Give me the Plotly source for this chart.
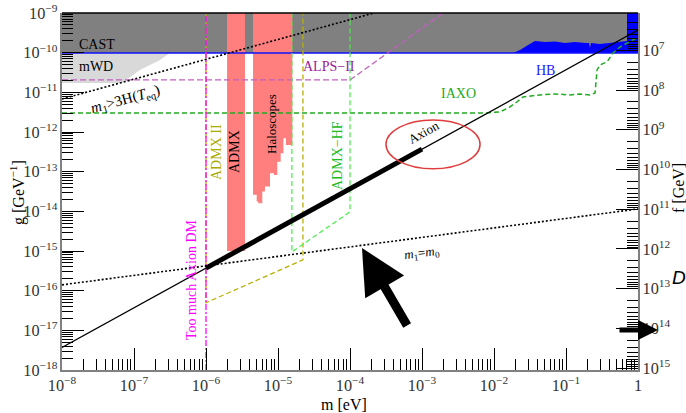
import plotly.graph_objects as go

# ---------------- data ----------------
m_range = [1e-8, 1.0]               # eV  (x axis)
g_range = [1e-18, 1e-9]             # GeV^-1 (left axis)
f_range = [10 ** 15.05, 10 ** 6.06]  # GeV (right axis, reversed: bottom, top)

g_cast = 0.98e-10
cast_m = [1e-8, 0.703, 0.703, 1e-8]
cast_g = [g_cast, g_cast, 1e-9, 1e-9]

mwd_m = [1e-8, 3.16e-7, 2.3e-7, 1.21e-7, 6.8e-8, 1e-8]
mwd_g = [0.98e-10, 0.98e-10, 6.5e-11, 3.66e-11, 1.72e-11, 1.72e-11]

hb_m = [0.0184, 0.0230, 0.0297, 0.0371, 0.0511, 0.0703, 0.0968, 0.133, 0.184,
        0.209, 0.215, 0.222, 0.296, 0.408, 0.562, 0.703, 0.703, 1.0, 1.0]
hb_g = [0.98e-10, 1.17e-10, 1.56e-10, 1.97e-10, 1.86e-10, 1.91e-10, 1.76e-10,
        1.86e-10, 1.76e-10, 1.76e-10, 1.31e-10, 1.76e-10, 1.66e-10, 1.76e-10,
        1.86e-10, 1.97e-10, 1e-9, 1e-9, 0.98e-10]
hb_line_m = [1e-8, 1.0]
hb_line_g = [g_cast, g_cast]

admx_m = [1.96e-6, 3.48e-6]
admx_g = [1.0e-15, 1e-9]

halo_edges_m = [4.50e-6, 5.06e-6, 5.32e-6, 6.05e-6, 6.59e-6, 7.74e-6, 8.80e-6,
                9.78e-6, 1.09e-5, 1.19e-5, 1.29e-5, 1.58e-5]
halo_floor_g = [2.61e-14, 1.77e-14, 1.61e-14, 3.16e-14, 4.22e-14, 9.17e-14,
                8.30e-14, 1.79e-13, 2.92e-13, 6.98e-13, 4.73e-13]
halo_top_g = 1e-9

admx2_m = [1e-6, 1e-6, 2.22e-5, 2.22e-5]
admx2_g = [1e-9, 4.95e-17, 6.0e-16, 1e-9]

admxhf_m = [1.56e-5, 1.56e-5, 1e-4, 1e-4]
admxhf_g = [1e-9, 9.5e-16, 9.7e-15, 1e-9]

alps_m = [1e-8, 1e-4, 1.96e-3]
alps_g = [2.05e-11, 2.05e-11, 1e-9]

iaxo_m = [1e-8, 8.0e-3, 0.0121, 0.0167, 0.0208, 0.0253, 0.0436, 0.0703, 0.114,
          0.156, 0.215, 0.253, 0.27, 0.296, 0.371, 0.45, 0.562, 0.968, 1.0]
iaxo_g = [3.03e-12, 3.03e-12, 3.21e-12, 4.29e-12, 5.7e-12, 7.66e-12, 8.6e-12,
          9.1e-12, 8.6e-12, 9.1e-12, 8.6e-12, 9.66e-12, 3.66e-11, 4.9e-11,
          5.83e-11, 9.8e-11, 1.39e-10, 2.35e-10, 2.45e-10]

dm_m = [1e-6, 1e-6]
dm_g = [1e-18, 1e-9]

axion_m = [1e-8, 1.0]
axion_g = [3.7e-18, 3.7e-10]
axion_thick_m = [1e-6, 1e-3]
axion_thick_g = [3.7e-16, 3.7e-13]

heq_m = [1e-8, 2.16e-4]
heq_g = [6.8e-12, 1e-9]

m0_m = [1e-8, 1.0]
m0_g = [1.4e-16, 1.15e-14]

ellipse_m = [3.16e-4, 6.4e-3]
ellipse_g = [1.18e-13, 2.02e-12]

# ---------------- figure ----------------
SERIF = "Liberation Serif"
fig = go.Figure()


def fill(xs, ys, color):
    fig.add_trace(go.Scatter(x=xs, y=ys, mode="lines", fill="toself",
                             fillcolor=color, line=dict(width=0),
                             hoverinfo="skip", showlegend=False))


def line(xs, ys, color, width, dash="solid"):
    fig.add_trace(go.Scatter(x=xs, y=ys, mode="lines",
                             line=dict(color=color, width=width, dash=dash),
                             hoverinfo="skip", showlegend=False))


fill(cast_m, cast_g, "#808080")
fill(mwd_m, mwd_g, "#d9d9d9")
fill(hb_m, hb_g, "#0000ff")

# ADMX
fill([admx_m[0], admx_m[1], admx_m[1], admx_m[0]],
     [admx_g[0], admx_g[0], admx_g[1], admx_g[1]], "#ff7f7f")
# Haloscopes (stepped lower edge)
hx = [halo_edges_m[0], halo_edges_m[-1]]
hy = [halo_top_g, halo_top_g]
for i in reversed(range(len(halo_floor_g))):
    hx += [halo_edges_m[i + 1], halo_edges_m[i]]
    hy += [halo_floor_g[i], halo_floor_g[i]]
fill(hx, hy, "#ff7f7f")

line(hb_line_m, hb_line_g, "#1010ff", 1.3)
line(alps_m, alps_g, "#c060c0", 1.3, "6px,3px")
line(iaxo_m, iaxo_g, "#22aa22", 1.5, "5px,3px")
line(admx2_m, admx2_g, "#b8b000", 1.3, "5px,3px")
line(admxhf_m, admxhf_g, "#44ee44", 1.2, "5px,3px")
line(dm_m, dm_g, "#ff00ff", 1.3, "6px,2px,2px,2px")
line(heq_m, heq_g, "black", 1.6, "2px,2px")
line(m0_m, m0_g, "black", 1.6, "2px,2px")
line(axion_m, axion_g, "black", 1.3)
line(axion_thick_m, axion_thick_g, "black", 5)

# invisible trace to carry the right (f) axis
fig.add_trace(go.Scatter(x=m_range, y=f_range, yaxis="y2", mode="markers",
                         marker=dict(opacity=0), hoverinfo="skip", showlegend=False))

fig.add_shape(type="circle", xref="x", yref="y",
              x0=ellipse_m[0], x1=ellipse_m[1], y0=ellipse_g[0], y1=ellipse_g[1],
              line=dict(color="#e03c3c", width=1.5), layer="above")
fig.add_shape(type="line", xref="paper", yref="paper", x0=0, x1=1, y0=1, y1=1,
              line=dict(color="black", width=1.5))

# ---- text ----
L, R, T, B = 62, 638, 13, 370


def px(x):
    return (x - L) / (R - L)


def py(y):
    return (B - y) / (B - T)


def label(x, y, text, color="black", size=14, angle=0, family=SERIF):
    fig.add_annotation(x=px(x), y=py(y), xref="paper", yref="paper", text=text,
                       showarrow=False, textangle=angle,
                       xanchor="center", yanchor="middle",
                       font=dict(family=family, size=size, color=color))


label(97, 44, "CAST")
label(96, 66, "mWD")
label(329, 66, "ALPS\u2212II", "#992299")
label(458, 93, "IAXO", "#22aa22")
label(545, 70, "HB", "#1a1aff")
label(423, 132, "Axion", size=13, angle=-29)
label(271, 124, "Haloscopes", size=13, angle=-90)
label(235, 152, "ADMX", angle=-90)
label(217, 152, "ADMX II", "#aaaa00", angle=-90)
label(337, 156, "ADMX\u2212HF", "#22bb22", angle=-90)
label(191, 280, "Too much Axion DM", "#ff00ff", angle=-90)
label(125, 100, "<i>m</i><sub>1</sub>&gt;3H(<i>T</i><sub>eq</sub>)", size=15, angle=-15.5)
label(422, 253, "<i>m</i><sub>1</sub>=<i>m</i><sub>0</sub>", size=13, angle=-7.5)
label(344, 404, "m [eV]", size=16)
label(17, 193, "g [GeV<sup>\u22121</sup>]", size=16, angle=-90)
label(678, 188, "f [GeV]", size=16, angle=-90)
label(679, 277, "<i>D</i>", size=19, family="Liberation Sans")

# arrows
fig.add_annotation(x=px(362), y=py(248), xref="paper", yref="paper", text="",
                   showarrow=True, ax=46, ay=79, arrowhead=2, arrowsize=1,
                   arrowwidth=9, arrowcolor="black")
fig.add_annotation(x=px(658), y=py(330), xref="paper", yref="paper", text="",
                   showarrow=True, ax=-40, ay=0, arrowhead=2, arrowsize=0.8,
                   arrowwidth=5, arrowcolor="black")

tickfont = dict(family=SERIF, size=13, color="#333")
common = dict(type="log", ticks="inside", ticklen=22, tickwidth=1.2,
              tickcolor="black", showline=True, linecolor="#808080", linewidth=2,
              showgrid=False, zeroline=False, exponentformat="power", dtick=1,
              tickfont=tickfont, automargin=False,
              minor=dict(ticks="inside", ticklen=11, tickwidth=1,
                         tickcolor="black", dtick="D1", showgrid=False))

fig.update_layout(
    width=686, height=413,
    margin=dict(l=L, r=686 - R, t=T, b=413 - B),
    paper_bgcolor="white", plot_bgcolor="white",
    showlegend=False,
    xaxis=dict(range=[-8, 0], **common),
    yaxis=dict(range=[-18, -9], **common),
    yaxis2=dict(range=[15.05, 6.06], overlaying="y", side="right", anchor="x",
                **common),
)

fig.write_html("out.html", config={"displayModeBar": False},
               post_script="document.body.style.margin='0';"
                           "document.body.style.overflow='hidden';")
